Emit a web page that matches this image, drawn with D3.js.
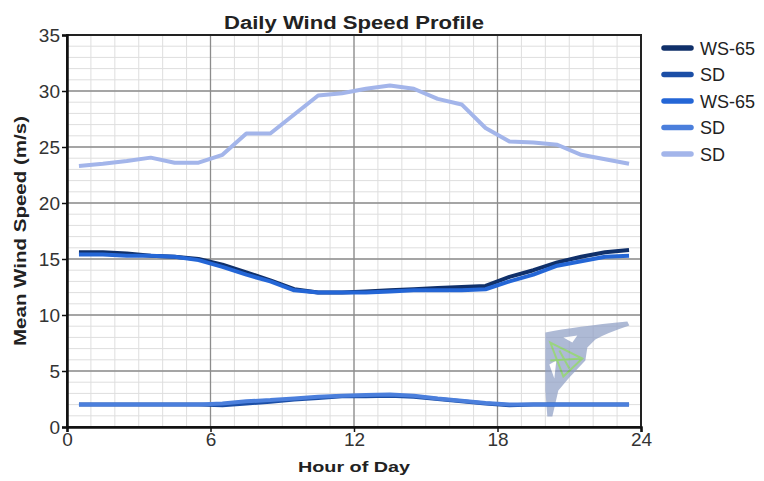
<!DOCTYPE html>
<html>
<head>
<meta charset="utf-8">
<script src="https://cdn.jsdelivr.net/npm/d3@7"></script>
<style>
  body { margin: 0; background: #fff; }
  svg { font-family: Arial, "Liberation Sans", sans-serif; }
</style>
</head>
<body>
<div id="container"></div>
<script>
// hour-of-day centres
var hours = [0.5, 1.5, 2.5, 3.5, 4.5, 5.5, 6.5, 7.5, 8.5, 9.5, 10.5, 11.5,
	12.5, 13.5, 14.5, 15.5, 16.5, 17.5, 18.5, 19.5, 20.5, 21.5, 22.5, 23.5];

var ws65A = [15.6, 15.6, 15.5, 15.3, 15.2, 15.0, 14.5, 13.8, 13.1, 12.3, 12.0, 12.0,
	12.1, 12.2, 12.3, 12.4, 12.5, 12.6, 13.4, 14.0, 14.7, 15.2, 15.6, 15.8];
var sdA = [2.0, 2.0, 2.0, 2.0, 2.0, 2.0, 1.95, 2.1, 2.25, 2.45, 2.6, 2.75,
	2.75, 2.8, 2.7, 2.5, 2.3, 2.1, 1.95, 2.0, 2.0, 2.0, 2.0, 2.0];
var ws65B = [15.4, 15.4, 15.3, 15.3, 15.2, 14.9, 14.3, 13.6, 13.0, 12.2, 12.0, 12.0,
	12.0, 12.1, 12.2, 12.2, 12.2, 12.3, 13.0, 13.6, 14.4, 14.8, 15.2, 15.3];
var sdB = [2.0, 2.0, 2.0, 2.0, 2.0, 2.0, 2.1, 2.3, 2.4, 2.55, 2.7, 2.8,
	2.85, 2.9, 2.8, 2.55, 2.35, 2.15, 2.0, 2.0, 2.0, 2.0, 2.0, 2.0];
var sdC = [23.3, 23.5, 23.75, 24.05, 23.6, 23.6, 24.3, 26.2, 26.2, 27.9, 29.6, 29.8,
	30.2, 30.5, 30.2, 29.3, 28.8, 26.7, 25.5, 25.4, 25.2, 24.3, 23.9, 23.5];

var seriesNames = ["WS-65", "SD", "WS-65", "SD", "SD"];
var seriesValues = [ws65A, sdA, ws65B, sdB, sdC];
var seriesColors = ["#10306a", "#1b4ea6", "#2466d6", "#4b7fdc", "#a3b5ea"];

var xTicks = [0, 6, 12, 18, 24];
var yTicks = [0, 5, 10, 15, 20, 25, 30, 35];

var W = 764, H = 481;
var margin = {top: 35, right: 123, bottom: 54, left: 67};

var x = d3.scaleLinear().domain([0, 24]).range([margin.left, W - margin.right]);
var y = d3.scaleLinear().domain([0, 35]).range([H - margin.bottom, margin.top]);

var svg = d3.select("#container").append("svg")
	.attr("width", W)
	.attr("height", H);

// minor grid
var grid = svg.append("g").attr("class", "grid");
grid.selectAll("line.mx").data(d3.range(1, 24)).enter().append("line")
	.attr("x1", d => x(d)).attr("x2", d => x(d))
	.attr("y1", y(0)).attr("y2", y(35))
	.attr("stroke", "#dedede").attr("stroke-width", 1);
grid.selectAll("line.my").data(d3.range(1, 35)).enter().append("line")
	.attr("y1", d => y(d)).attr("y2", d => y(d))
	.attr("x1", x(0)).attr("x2", x(24))
	.attr("stroke", "#dedede").attr("stroke-width", 1);

// major grid
grid.selectAll("line.Mx").data(xTicks.slice(1, -1)).enter().append("line")
	.attr("x1", d => x(d)).attr("x2", d => x(d))
	.attr("y1", y(0)).attr("y2", y(35))
	.attr("stroke", "#8c8c8c").attr("stroke-width", 1.3);
grid.selectAll("line.My").data(yTicks.slice(1, -1)).enter().append("line")
	.attr("y1", d => y(d)).attr("y2", d => y(d))
	.attr("x1", x(0)).attr("x2", x(24))
	.attr("stroke", "#8c8c8c").attr("stroke-width", 1.3);

// watermark logo (decoration)
var logo = svg.append("g")
	.attr("transform", "translate(" + x(20) + "," + y(9.5) + ")")
	.attr("opacity", 0.7);
logo.append("path")
	.attr("d", "M0,12 Q30,6 82,1 L84,5 Q60,13 50,19 L42,27 L40,40 L24,57 L13,70 L7,96 L2,96 L0,70 Z")
	.attr("fill", "#8d9dc4");
logo.append("path")
	.attr("d", "M18,17 L32,15 L27,22 Z M4,44 L11,40 L9,58 Z")
	.attr("fill", "#ffffff");
logo.append("path")
	.attr("d", "M5,22 L37,38 L18,56 Z M5,40 L37,38 M14,30 L24,48")
	.attr("fill", "none").attr("stroke", "#6fc24a").attr("stroke-width", 2);

// lines
var line = d3.line()
	.x((d, i) => x(hours[i]))
	.y(d => y(d));

svg.append("g").attr("class", "series")
	.selectAll("path").data(seriesValues).enter().append("path")
	.attr("d", d => line(d))
	.attr("fill", "none")
	.attr("stroke", (d, i) => seriesColors[i])
	.attr("stroke-width", 4)
	.attr("stroke-linejoin", "round");

// frame
svg.append("rect")
	.attr("x", x(0)).attr("y", y(35))
	.attr("width", x(24) - x(0)).attr("height", y(0) - y(35))
	.attr("fill", "none").attr("stroke", "#222").attr("stroke-width", 2);

// axes
var xAxis = d3.axisBottom(x).tickValues(xTicks).tickSize(5).tickPadding(1);
var yAxis = d3.axisLeft(y).tickValues(yTicks).tickSize(5).tickPadding(2);

var gx = svg.append("g").attr("transform", "translate(0," + y(0) + ")").call(xAxis);
var gy = svg.append("g").attr("transform", "translate(" + x(0) + ",0)").call(yAxis);

[gx, gy].forEach(g => {
	g.select(".domain").attr("stroke", "#111").attr("stroke-width", 2.5);
	g.selectAll(".tick line").attr("stroke", "#111").attr("stroke-width", 1.5);
	g.selectAll(".tick text").attr("fill", "#333").style("font-size", "19px");
});

// titles
svg.append("text")
	.attr("x", (x(0) + x(24)) / 2).attr("y", 29)
	.attr("text-anchor", "middle")
	.attr("textLength", 260).attr("lengthAdjust", "spacingAndGlyphs")
	.style("font-size", "18px").style("font-weight", "bold").attr("fill", "#222")
	.text("Daily Wind Speed Profile");

svg.append("text")
	.attr("x", (x(0) + x(24)) / 2).attr("y", 472)
	.attr("text-anchor", "middle")
	.attr("textLength", 112).attr("lengthAdjust", "spacingAndGlyphs")
	.style("font-size", "15px").style("font-weight", "bold").attr("fill", "#222")
	.text("Hour of Day");

svg.append("text")
	.attr("transform", "translate(26," + (y(0) + y(35)) / 2 + ") rotate(-90)")
	.attr("text-anchor", "middle")
	.attr("textLength", 230).attr("lengthAdjust", "spacingAndGlyphs")
	.style("font-size", "16px").style("font-weight", "bold").attr("fill", "#222")
	.text("Mean Wind Speed (m/s)");

// legend
var legend = svg.append("g").attr("transform", "translate(662,48)");
var item = legend.selectAll("g").data(seriesNames).enter().append("g")
	.attr("transform", (d, i) => "translate(0," + i * 26.5 + ")");
item.append("line")
	.attr("x1", 2).attr("x2", 29)
	.attr("stroke", (d, i) => seriesColors[i])
	.attr("stroke-width", 5.5).attr("stroke-linecap", "round");
item.append("text")
	.attr("x", 38).attr("y", 6.5)
	.style("font-size", "18px").attr("fill", "#222")
	.text(d => d);
</script>
</body>
</html>
